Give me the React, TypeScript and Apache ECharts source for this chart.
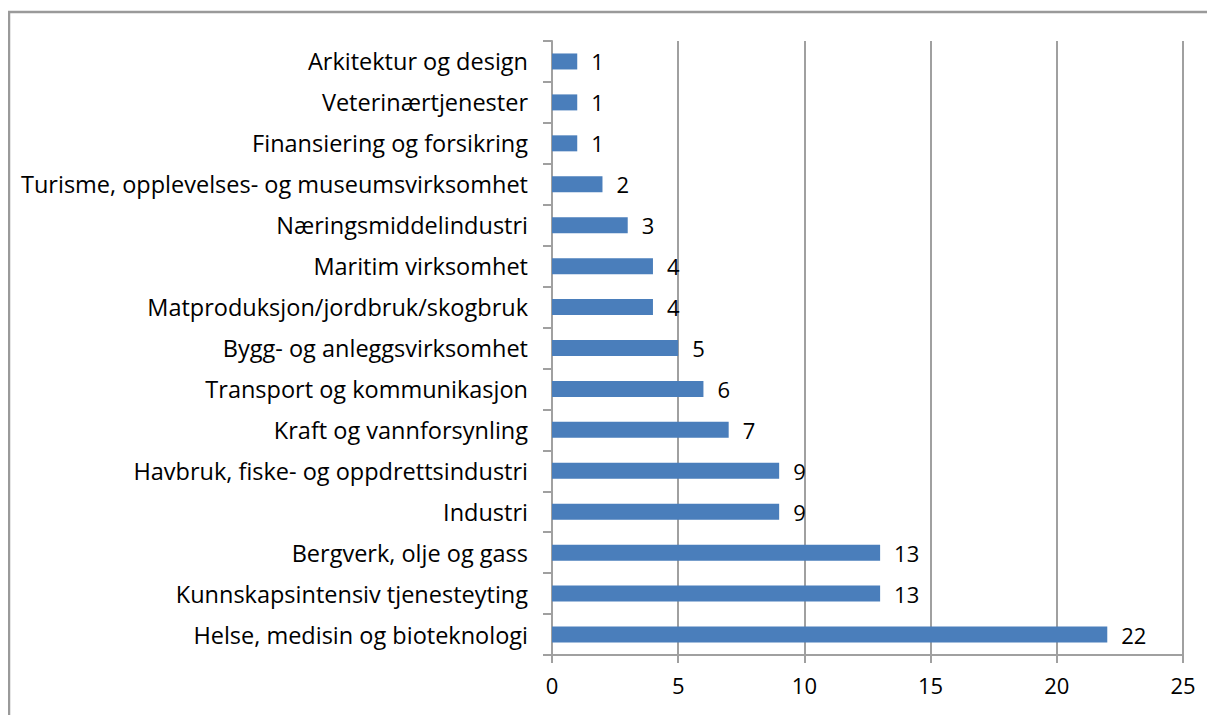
import React, { useEffect, useRef } from "react";
import * as echarts from "echarts";

const categories = [
  "Helse, medisin og bioteknologi",
  "Kunnskapsintensiv tjenesteyting",
  "Bergverk, olje og gass",
  "Industri",
  "Havbruk, fiske- og oppdrettsindustri",
  "Kraft og vannforsynling",
  "Transport og kommunikasjon",
  "Bygg- og anleggsvirksomhet",
  "Matproduksjon/jordbruk/skogbruk",
  "Maritim virksomhet",
  "Næringsmiddelindustri",
  "Turisme, opplevelses- og museumsvirksomhet",
  "Finansiering og forsikring",
  "Veterinærtjenester",
  "Arkitektur og design",
];
const values = [22, 13, 13, 9, 9, 7, 6, 5, 4, 4, 3, 2, 1, 1, 1];
const xMin = 0;
const xMax = 25;
const xInterval = 5;

const FONT = "'Open Sans', sans-serif";

export default function App() {
  const ref = useRef<HTMLDivElement>(null);
  useEffect(() => {
    if (!ref.current) return;
    const chart = echarts.init(ref.current, undefined, { renderer: "svg" });
    chart.setOption({
      animation: false,
      graphic: [
        {
          type: "rect",
          shape: { x: 1, y: 4, width: 1400, height: 900 },
          style: { fill: "none", stroke: "#9a9a9a", lineWidth: 2.5 },
          silent: true,
        },
      ],
      grid: { left: 544, right: 32, top: 33, bottom: 60, containLabel: false },
      xAxis: {
        type: "value",
        min: xMin,
        max: xMax,
        interval: xInterval,
        axisLine: { show: true, lineStyle: { color: "#a0a0a0", width: 2 } },
        axisTick: { show: true, length: 8, lineStyle: { color: "#a0a0a0", width: 2 } },
        splitLine: { show: true, lineStyle: { color: "#a0a0a0", width: 2 } },
        axisLabel: { color: "#000", fontFamily: FONT, fontSize: 22, margin: 19 },
      },
      yAxis: {
        type: "category",
        data: categories,
        axisLine: { show: true, lineStyle: { color: "#a0a0a0", width: 2 } },
        axisTick: { show: true, length: 9, lineStyle: { color: "#a0a0a0", width: 2 } },
        axisLabel: { color: "#000", fontFamily: FONT, fontSize: 23.5, margin: 24 },
      },
      series: [
        {
          type: "bar",
          data: values,
          barWidth: 16,
          itemStyle: { color: "#4a7ebb" },
          label: {
            show: true,
            position: "right",
            distance: 14,
            color: "#000",
            fontFamily: FONT,
            fontSize: 22,
          },
        },
      ],
    });
    return () => chart.dispose();
  }, []);
  return <div ref={ref} style={{ width: 1207, height: 707 }} />;
}
